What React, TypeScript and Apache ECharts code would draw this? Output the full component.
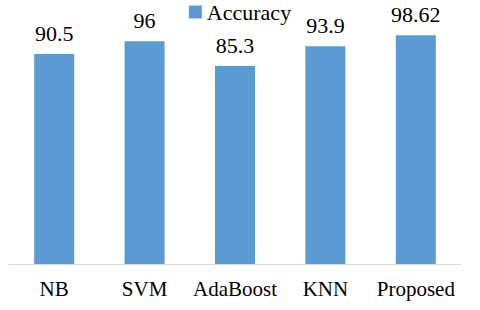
import React, { useEffect, useRef } from "react";
import * as echarts from "echarts";

const categories = ["NB", "SVM", "AdaBoost", "KNN", "Proposed"];
const accuracy = [90.5, 96, 85.3, 93.9, 98.62];
const seriesName = "Accuracy";

export default function App() {
  const ref = useRef<HTMLDivElement>(null);
  useEffect(() => {
    if (!ref.current) return;
    const chart = echarts.init(ref.current, undefined, { renderer: "svg" });
    const font = "Liberation Serif, DejaVu Serif, serif";
    chart.setOption({
      animation: false,
      backgroundColor: "#ffffff",
      textStyle: { fontFamily: font },
      legend: {
        data: [seriesName],
        top: -4,
        left: "center",
        itemWidth: 13,
        itemHeight: 13,
        itemGap: 4,
        icon: "rect",
        textStyle: { fontFamily: font, fontSize: 22, color: "#000" },
      },
      grid: { left: 9, right: 19, top: 32, bottom: 46 },
      xAxis: {
        type: "category",
        data: categories,
        axisLine: { lineStyle: { color: "#d9d9d9", width: 1 } },
        axisTick: { show: false },
        axisLabel: { interval: 0, fontFamily: font, fontSize: 21, color: "#000", margin: 14 },
      },
      yAxis: {
        type: "value",
        min: 0,
        max: 100,
        show: false,
        splitLine: { show: false },
      },
      series: [
        {
          name: seriesName,
          type: "bar",
          data: accuracy,
          barWidth: 40,
          itemStyle: { color: "#5b9bd5" },
          label: {
            show: true,
            position: "top",
            distance: 10,
            fontFamily: font,
            fontSize: 22,
            color: "#000",
          },
        },
      ],
    });
    return () => chart.dispose();
  }, []);
  return <div ref={ref} style={{ width: 480, height: 310, position: "absolute", left: 0, top: 0 }} />;
}
